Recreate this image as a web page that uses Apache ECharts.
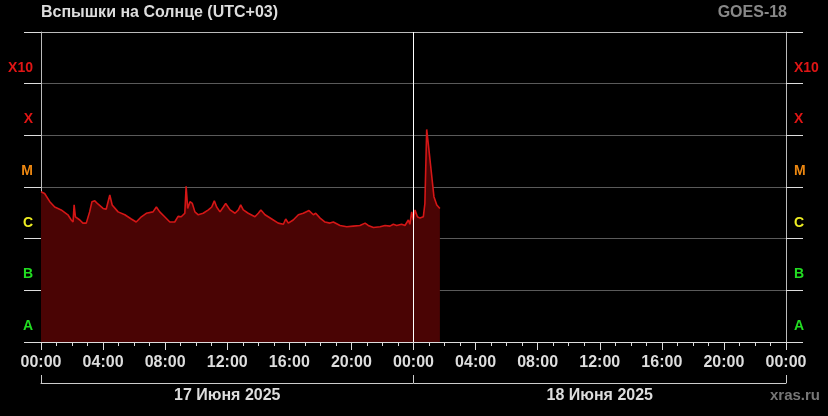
<!DOCTYPE html>
<html>
<head>
<meta charset="utf-8">
<script src="https://cdn.jsdelivr.net/npm/echarts@6/dist/echarts.min.js"></script>
<style>
html,body{margin:0;padding:0;background:#000;}
#chart{width:828px;height:416px;}
</style>
</head>
<body>
<div id="chart"></div>
<script>
// ---- data ----
const times = [
'17 00:00','17 00:14','17 00:34','17 00:53','17 01:18','17 01:44','17 01:57','17 02:04','17 02:08','17 02:13',
'17 02:30','17 02:42','17 02:55','17 03:08','17 03:17','17 03:28','17 03:40','17 04:00','17 04:12','17 04:26',
'17 04:35','17 04:58','17 05:24','17 05:49','17 06:08','17 06:28','17 06:47','17 07:13','17 07:26','17 07:39',
'17 07:58','17 08:18','17 08:37','17 08:50','17 09:02','17 09:16','17 09:21','17 09:27','17 09:36','17 09:45',
'17 09:55','17 10:08','17 10:27','17 10:47','17 11:00','17 11:10','17 11:19','17 11:32','17 11:45','17 11:54',
'17 12:11','17 12:30','17 12:43','17 12:52','17 13:02','17 13:21','17 13:47','17 14:00','17 14:10','17 14:26',
'17 14:52','17 15:17','17 15:37','17 15:46','17 15:56','17 16:15','17 16:35','17 16:54','17 17:16','17 17:33',
'17 17:42','17 17:59','17 18:18','17 18:37','17 18:50','17 19:16','17 19:42','17 20:07','17 20:33','17 20:53',
'17 21:05','17 21:25','17 21:51','17 22:10','17 22:29','17 22:42','17 22:55','17 23:14','17 23:27','17 23:40',
'17 23:46','17 23:53','17 23:59','18 00:06','18 00:15','18 00:25','18 00:38','18 00:44','18 00:51','18 01:04',
'18 01:19','18 01:30','18 01:42'
];
const flux = [
8.1e-6,7.5e-6,5.2e-6,4.1e-6,3.6e-6,2.9e-6,2.3e-6,2.1e-6,4.5e-6,2.65e-6,
2.3e-6,2.0e-6,2.0e-6,3.3e-6,5.2e-6,5.4e-6,4.7e-6,3.85e-6,3.7e-6,7.0e-6,
4.5e-6,3.3e-6,2.9e-6,2.4e-6,2.1e-6,2.65e-6,3.1e-6,3.3e-6,4.1e-6,3.3e-6,
2.65e-6,2.1e-6,2.1e-6,2.7e-6,2.65e-6,3.1e-6,1.03e-5,3.85e-6,5.2e-6,4.8e-6,
3.3e-6,2.9e-6,3.1e-6,3.6e-6,4.1e-6,5.4e-6,4.1e-6,3.3e-6,4.1e-6,4.8e-6,
3.6e-6,3.1e-6,3.6e-6,4.5e-6,3.6e-6,3.1e-6,2.65e-6,3.1e-6,3.6e-6,2.9e-6,
2.4e-6,2.0e-6,1.9e-6,2.4e-6,2.0e-6,2.3e-6,2.9e-6,3.1e-6,3.5e-6,2.9e-6,
3.1e-6,2.5e-6,2.1e-6,2.0e-6,2.1e-6,1.8e-6,1.7e-6,1.75e-6,1.8e-6,2.0e-6,
1.8e-6,1.65e-6,1.7e-6,1.8e-6,1.75e-6,1.9e-6,1.8e-6,1.9e-6,1.8e-6,2.3e-6,
1.9e-6,3.3e-6,2.3e-6,3.6e-6,2.65e-6,2.5e-6,2.65e-6,4.8e-6,1.3e-4,3.3e-5,
6.5e-6,4.5e-6,3.85e-6
];
const classLabels = ['A', 'B', 'C', 'M', 'X', 'X10', ''];   // label for band above 1e-8 ... 1e-2
const classColors = ['#22dd22', '#22dd22', '#eeee22', '#ee8811', '#e01515', '#e01515', '#000'];
const dateLabels = ['17 Июня 2025', '18 Июня 2025'];
const titleText = 'Вспышки на Солнце (UTC+03)';
const satText = 'GOES-18';
const siteText = 'xras.ru';

// ---- build ----
function toMin(s) {
  const p = s.split(' ');
  const hm = p[1].split(':').map(Number);
  return (Number(p[0]) - 17) * 1440 + hm[0] * 60 + hm[1];
}
const seriesData = times.map((t, i) => [toMin(t), flux[i]]);
const FONT = "'Liberation Sans', Arial, sans-serif";
function clsIdx(v) { return Math.round(Math.log10(v)) + 8; }
function pad(n) { return (n < 10 ? '0' : '') + n; }

const yCommon = {
  type: 'log', logBase: 10, min: 1e-8, max: 1e-2, splitNumber: 6,
  axisLine: { show: true, lineStyle: { color: '#bbbbbb', width: 1 } },
  axisTick: { show: true, length: 17, lineStyle: { color: '#dddddd', width: 1 } },
  axisLabel: {
    margin: 8,
    fontFamily: FONT, fontWeight: 'bold', fontSize: 14,
    verticalAlign: 'bottom', padding: [0, 0, 9, 0],
    showMinLabel: true, showMaxLabel: true,
    formatter: v => classLabels[clsIdx(v)] || '',
    color: (v) => classColors[clsIdx(v)] || '#000'
  }
};

const chart = echarts.init(document.getElementById('chart'), null, { renderer: 'canvas' });
chart.setOption({
  backgroundColor: '#000',
  animation: false,
  title: [
    { text: titleText, left: 41, top: 5, padding: 0,
      textStyle: { color: '#dddddd', fontFamily: FONT, fontWeight: 'bold', fontSize: 16 } },
    { text: satText, right: 41, top: 5, padding: 0,
      textStyle: { color: '#888888', fontFamily: FONT, fontWeight: 'bold', fontSize: 16 } },
    { text: siteText, right: 8, top: 388, padding: 0,
      textStyle: { color: '#777777', fontFamily: FONT, fontWeight: 'bold', fontSize: 15 } }
  ],
  grid: { left: 41, right: 42, top: 32, bottom: 74, show: false },
  xAxis: [
    {
      type: 'value', min: 0, max: 2880, interval: 240, position: 'bottom',
      axisLine: { show: true, onZero: false, lineStyle: { color: '#dddddd', width: 1 } },
      axisTick: { show: true, length: 8, lineStyle: { color: '#dddddd' } },
      minorTick: { show: true, splitNumber: 4, length: 4, lineStyle: { color: '#dddddd' } },
      splitLine: { show: false },
      axisLabel: {
        margin: 13, color: '#dddddd', fontFamily: FONT, fontWeight: 'bold', fontSize: 16,
        showMinLabel: true, showMaxLabel: true,
        formatter: v => pad(Math.floor((v % 1440) / 60)) + ':00'
      }
    },
    {
      type: 'category', data: dateLabels, position: 'bottom', offset: 41, boundaryGap: true,
      axisLine: { show: true, lineStyle: { color: '#cccccc', width: 1 } },
      axisTick: { show: true, inside: true, length: 8, interval: 0, lineStyle: { color: '#cccccc' } },
      splitLine: { show: false },
      axisLabel: { margin: 5, color: '#dddddd', fontFamily: FONT, fontWeight: 'bold', fontSize: 16, interval: 0 }
    }
  ],
  yAxis: [
    Object.assign({}, yCommon, {
      position: 'left',
      splitLine: { show: true, lineStyle: { color: ['#bbbbbb', '#5a5a5a', '#5a5a5a', '#5a5a5a', '#5a5a5a', '#5a5a5a', '#bbbbbb'], width: 1 } },
      axisLabel: Object.assign({}, yCommon.axisLabel, { align: 'right' })
    }),
    Object.assign({}, yCommon, {
      position: 'right',
      splitLine: { show: false },
      axisLabel: Object.assign({}, yCommon.axisLabel, { align: 'left' })
    })
  ],
  series: [{
    type: 'line',
    xAxisIndex: 0, yAxisIndex: 0,
    data: seriesData,
    showSymbol: false,
    symbol: 'none',
    lineStyle: { color: '#d41616', width: 1.6 },
    areaStyle: { color: '#4a0404', opacity: 1, origin: 'start' },
    markLine: {
      silent: true, symbol: 'none', label: { show: false },
      lineStyle: { color: '#ffffff', width: 1, type: 'solid' },
      data: [{ xAxis: 1440 }]
    }
  }]
});
</script>
</body>
</html>
